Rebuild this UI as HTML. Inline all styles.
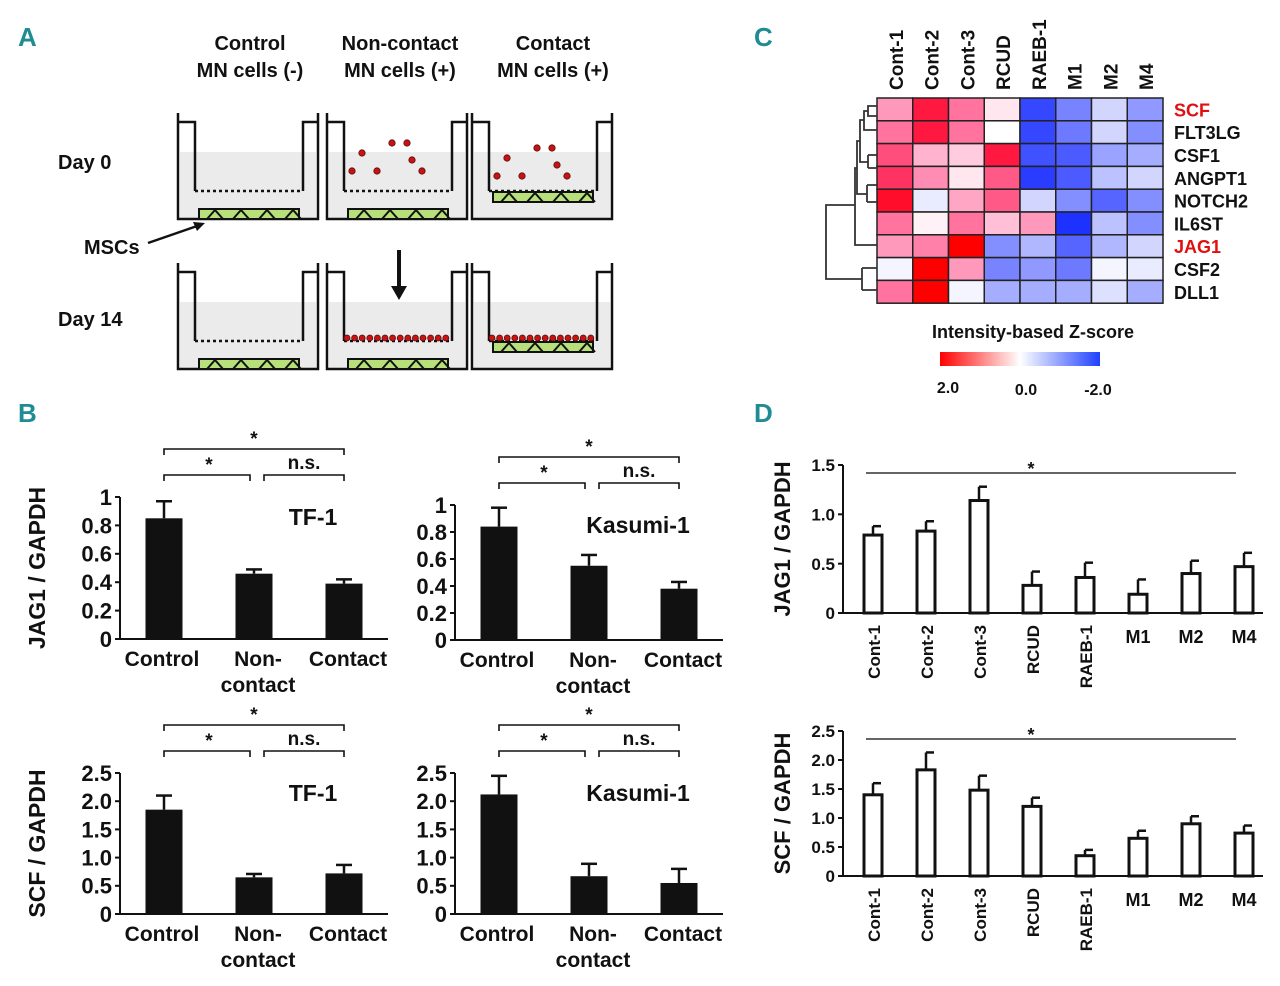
<!DOCTYPE html>
<html><head><meta charset="utf-8"><style>
body{margin:0;background:#fff}
svg{display:block;font-family:"Liberation Sans",Arial,sans-serif}
text{font-weight:bold;fill:#111}
</style></head><body>
<svg id="fig" width="1280" height="986" viewBox="0 0 1280 986" xmlns="http://www.w3.org/2000/svg">
<g style="font-size:26px">
<text x="18" y="46" style="fill:#1f8b93">A</text>
<text x="18" y="422" style="fill:#1f8b93">B</text>
<text x="754" y="46" style="fill:#1f8b93">C</text>
<text x="754" y="422" style="fill:#1f8b93">D</text>
</g>
<g style="font-size:20px" text-anchor="middle">
<text x="250" y="50">Control</text><text x="250" y="77">MN cells (-)</text>
<text x="400" y="50">Non-contact</text><text x="400" y="77">MN cells (+)</text>
<text x="553" y="50">Contact</text><text x="553" y="77">MN cells (+)</text>
</g>
<g style="font-size:20px">
<text x="58" y="169">Day  0</text><text x="58" y="326">Day  14</text><text x="84" y="254">MSCs</text>
</g>
<line x1="148" y1="243" x2="200" y2="225" stroke="#111" stroke-width="2.5"/>
<polygon points="205,223 193,222 197,231" fill="#111"/>
<line x1="399" y1="250" x2="399" y2="290" stroke="#111" stroke-width="4"/>
<polygon points="391,286 407,286 399,300" fill="#111"/>
<g id="wells"></g>
<g id="heat"></g>
<g id="charts"></g>
</svg>
<script>
// ===== Heatmap data =====
const heatCols=["Cont-1","Cont-2","Cont-3","RCUD","RAEB-1","M1","M2","M4"];
const heatRows=["SCF","FLT3LG","CSF1","ANGPT1","NOTCH2","IL6ST","JAG1","CSF2","DLL1"];
const zSCF=[0.8,1.8,1.1,0.2,-1.8,-1.2,-0.4,-1.0];
const zFLT3LG=[1.1,1.8,1.1,0,-1.8,-1.3,-0.4,-1.1];
const zCSF1=[1.4,0.6,0.4,1.8,-1.7,-1.6,-0.9,-0.8];
const zANGPT1=[1.6,0.9,0.2,1.3,-1.9,-1.6,-0.6,-0.4];
const zNOTCH2=[1.9,-0.2,0.7,1.3,-0.4,-1.1,-1.5,-1.1];
const zIL6ST=[1.1,0.1,1.1,0.5,0.8,-2.0,-0.6,-1.1];
const zJAG1=[0.8,1.0,2.0,-1.1,-0.7,-1.5,-0.7,-0.4];
const zCSF2=[-0.1,2.0,0.8,-1.2,-1.0,-1.3,-0.1,-0.2];
const zDLL1=[1.1,2.0,-0.1,-0.8,-0.8,-0.8,-0.3,-0.8];
const heatValues=[zSCF,zFLT3LG,zCSF1,zANGPT1,zNOTCH2,zIL6ST,zJAG1,zCSF2,zDLL1];
// ===== Panel B data =====
const bCats=["Control","Non-contact","Contact"];
const tfJag=[0.85,0.46,0.39], tfJagErr=[0.12,0.03,0.03];
const kaJag=[0.84,0.55,0.38], kaJagErr=[0.14,0.08,0.05];
const tfScf=[1.85,0.65,0.72], tfScfErr=[0.25,0.06,0.15];
const kaScf=[2.12,0.67,0.55], kaScfErr=[0.33,0.22,0.25];
const jagTicks=["0","0.2","0.4","0.6","0.8","1"];
const scfTicks=["0","0.5","1.0","1.5","2.0","2.5"];
// ===== Panel D data =====
const dCats=["Cont-1","Cont-2","Cont-3","RCUD","RAEB-1","M1","M2","M4"];
const dJag=[0.79,0.83,1.14,0.28,0.36,0.19,0.40,0.47];
const dJagErr=[0.09,0.10,0.14,0.14,0.15,0.15,0.13,0.14];
const dScf=[1.40,1.83,1.48,1.20,0.35,0.65,0.90,0.74];
const dScfErr=[0.20,0.30,0.25,0.15,0.10,0.13,0.13,0.13];
const dJagTicks=["0","0.5","1.0","1.5"];
const dScfTicks=["0","0.5","1.0","1.5","2.0","2.5"];

const NS="http://www.w3.org/2000/svg";
function el(tag,attrs,parent,txt){const e=document.createElementNS(NS,tag);for(const k in attrs)e.setAttribute(k,attrs[k]);if(txt!==undefined)e.textContent=txt;parent.appendChild(e);return e;}

// ===== Wells =====
const W=document.getElementById('wells');
function well(x,y,type,day){
  const g=el('g',{},W);
  
  
  el('rect',{x:x+2,y:y+39,width:136,height:66,fill:'#ebebeb'},g);
  el('path',{d:`M${x} ${y} V${y+106} H${x+140} V${y}`,fill:'none',stroke:'#111','stroke-width':2.5},g);
  const insB=y+78;
  el('path',{d:`M${x} ${y+9} H${x+17} V${y+78}`,fill:'none',stroke:'#111','stroke-width':2.5},g);
  el('path',{d:`M${x+140} ${y+9} H${x+125} V${y+78}`,fill:'none',stroke:'#111','stroke-width':2.5},g);
  el('line',{x1:x+17,y1:insB,x2:x+125,y2:insB,stroke:'#111','stroke-width':2.5,'stroke-dasharray':'3,3'},g);
  const cellY= type==='contact'? insB : y+95;
  const cx0= x+17, cw=108;
  el('rect',{x:cx0+4,y:cellY+1,width:cw-8,height:10,fill:'#b8e07a',stroke:'#111','stroke-width':2},g);
  for(let i=0;i<4;i++){el('path',{d:`M${cx0+12+i*26} ${cellY+11} L${cx0+20+i*26} ${cellY+2} L${cx0+28+i*26} ${cellY+11}`,fill:'none',stroke:'#111','stroke-width':2},g);}
  if(type!=='control'){
    if(day===0){
      const pts=[[30,40],[60,30],[80,47],[20,58],[90,58],[45,58],[75,30]];
      pts.forEach(p=>el('circle',{cx:x+p[0]+5,cy:y+p[1]+(type==='contact'?5:0),r:3.2,fill:'#cc1111',stroke:'#511',"stroke-width":0.8},g));
    } else {
      for(let i=0;i<14;i++)el('circle',{cx:x+20+i*7.6,cy:insB-3,r:3,fill:'#cc1111',stroke:'#511','stroke-width':0.8},g);
    }
  }
}
[[178,'control'],[327,'noncontact'],[472,'contact']].forEach(([x,t])=>{well(x,113,t,0);well(x,263,t,14);});

// ===== Heatmap =====
const H=document.getElementById('heat');
const hx0=877,hy0=98,cw=35.75,ch=22.8;
function zcol(z){const t=Math.min(1,Math.abs(z)/2);
 if(z>=0){return `rgb(255,${Math.round(255*(1-t))},${Math.round(255*Math.pow(1-t,0.6))})`;}
 return `rgb(${Math.round(255-225*t)},${Math.round(255-205*t)},255)`;}
heatValues.forEach((row,r)=>row.forEach((z,c)=>{
  const e=el('rect',{x:hx0+c*cw,y:hy0+r*ch,width:cw,height:ch,fill:zcol(z),stroke:'#222','stroke-width':1.5},H);
  
  
}));
heatCols.forEach((c,i)=>{const t=el('text',{x:0,y:0,transform:`translate(${hx0+i*cw+cw/2+8},${hy0-8}) rotate(-90)`,'font-size':19},H,c);
  });
heatRows.forEach((r,i)=>{const t=el('text',{x:1174,y:hy0+i*ch+ch/2+7,'font-size':18,style:(r==='SCF'||r==='JAG1')?'fill:#e01010':''},H,r);
  });
const dg=el('path',{d:'M877 106 H868 V116 H877 M868 111 H864 V130 H877 M864 120 H860 V162 H868 M868 155 H877 M868 168 H877 M868 155 V168 M860 141 H857 V194 H867 M867 185 H877 M867 202 H877 M867 185 V202 M857 168 H855 V245 H877 M855 205 H826 V279 H862 M862 268 H877 M862 290 H877 M862 268 V290',fill:'none',stroke:'#333','stroke-width':1.8},H);

const defs=el('defs',{},H);const lg=el('linearGradient',{id:'zg'},defs);
[['0','#ff0000'],['0.5','#ffffff'],['1','#2040ff']].forEach(s=>el('stop',{offset:s[0],'stop-color':s[1]},lg));
const gb=el('rect',{x:940,y:352,width:160,height:14,fill:'url(#zg)'},H);
el('text',{x:1033,y:338,'font-size':18,'text-anchor':'middle'},H,'Intensity-based Z-score');
el('text',{x:948,y:393,'font-size':16,'text-anchor':'middle'},H,'2.0');
el('text',{x:1026,y:395,'font-size':16,'text-anchor':'middle'},H,'0.0');
el('text',{x:1098,y:395,'font-size':16,'text-anchor':'middle'},H,'-2.0');

// ===== Bar charts =====
const C=document.getElementById('charts');
function bchart(o){
  const g=el('g',{},C);
  
  const y=v=>o.y0-(v/o.max)*(o.y0-o.ytop);
  el('line',{x1:o.ax,y1:o.ytop,x2:o.ax,y2:o.y0,stroke:'#111','stroke-width':2},g);
  el('line',{x1:o.ax,y1:o.y0,x2:o.xend,y2:o.y0,stroke:'#111','stroke-width':2},g);
  o.ticks.forEach((t,i)=>{const v=i*o.max/(o.ticks.length-1);
    el('line',{x1:o.ax-5,y1:y(v),x2:o.ax,y2:y(v),stroke:'#111','stroke-width':2},g);
    el('text',{x:o.ax-8,y:y(v)+o.tfs*0.36,'font-size':o.tfs,'text-anchor':'end'},g,t);});
  o.vals.forEach((v,i)=>{const cx=o.x0+i*o.step;
    const b=el('rect',{x:cx-o.bw/2,y:y(v),width:o.bw,height:o.y0-y(v),fill:o.open?'#fff':'#111',stroke:'#111','stroke-width':o.open?3:0},g);
    
    const ey=y(v+o.err[i]);
    el('line',{x1:cx,y1:y(v),x2:cx,y2:ey,stroke:'#111','stroke-width':2.5},g);
    el('line',{x1:cx,y1:ey,x2:cx+8,y2:ey,stroke:'#111','stroke-width':2.5},g);
    if(!o.open){el('line',{x1:cx-8,y1:ey,x2:cx,y2:ey,stroke:'#111','stroke-width':2.5},g);}
  });
  return {g,y};
}
function bPanel(name,ax,ytop,y0,vals,err,ticks,max,title,tx,ylab){
  const r=bchart({name,ax,ytop,y0,xend:ax+268,x0:ax+44,step:90,bw:37,vals,err,ticks,max,tfs:22,cats:bCats});
  const g=r.g;
  el('text',{x:ax+tx,y:ytop+28,'font-size':23,'text-anchor':'middle'},g,title);
  const lab=[['Control',ax+42,y0+27],['Non-',ax+138,y0+27],['contact',ax+138,y0+53],['Contact',ax+228,y0+27]];
  lab.forEach(l=>el('text',{x:l[1],y:l[2],'font-size':21,'text-anchor':'middle'},g,l[0]));
  const c0=ax+44,c1=ax+134,c2=ax+224,ba=ytop-22,bt=ytop-48;
  el('path',{d:`M${c0} ${ba+6} V${ba} H${c1-4} V${ba+6} M${c1+10} ${ba+6} V${ba} H${c2} V${ba+6} M${c0} ${bt+6} V${bt} H${c2} V${bt+6}`,fill:'none',stroke:'#111','stroke-width':1.6},g);
  el('text',{x:(c0+c1)/2,y:ba-4,'font-size':19,'text-anchor':'middle'},g,'*');
  el('text',{x:(c1+c2)/2+5,y:ba-6,'font-size':19,'text-anchor':'middle'},g,'n.s.');
  el('text',{x:(c0+c2)/2,y:bt-4,'font-size':19,'text-anchor':'middle'},g,'*');
  if(ylab) el('text',{x:0,y:0,transform:`translate(${ax-75},${(ytop+y0)/2}) rotate(-90)`,'font-size':23,'text-anchor':'middle'},g,ylab);
}
bPanel('tf1-jag1-chart',120,497,639,tfJag,tfJagErr,jagTicks,1,'TF-1',193,'JAG1 / GAPDH');
bPanel('kasumi-jag1-chart',455,505,640,kaJag,kaJagErr,jagTicks,1,'Kasumi-1',183,null);
bPanel('tf1-scf-chart',120,773,914,tfScf,tfScfErr,scfTicks,2.5,'TF-1',193,'SCF / GAPDH');
bPanel('kasumi-scf-chart',455,773,914,kaScf,kaScfErr,scfTicks,2.5,'Kasumi-1',183,null);

function dPanel(name,ytop,y0,vals,err,ticks,max,ylab){
  const r=bchart({name,ax:843,ytop,y0,xend:1263,x0:873,step:53,bw:18,vals,err,ticks,max,tfs:17,cats:dCats,open:true});
  const g=r.g;
  el('line',{x1:866,y1:ytop+8,x2:1236,y2:ytop+8,stroke:'#333','stroke-width':1.5},g);
  el('text',{x:1031,y:ytop+10,'font-size':18,'text-anchor':'middle'},g,'*');
  dCats.forEach((c,i)=>{const cx=873+i*53;
    if(c.startsWith('M')) el('text',{x:cx,y:y0+30,'font-size':18,'text-anchor':'middle'},g,c);
    else el('text',{x:0,y:0,transform:`translate(${cx+7},${y0+12}) rotate(-90)`,'font-size':17,'text-anchor':'end'},g,c);});
  el('text',{x:0,y:0,transform:`translate(${790},${(ytop+y0)/2}) rotate(-90)`,'font-size':22,'text-anchor':'middle'},g,ylab);
}
dPanel('d-jag1-chart',465,613,dJag,dJagErr,dJagTicks,1.5,'JAG1 / GAPDH');
dPanel('d-scf-chart',731,876,dScf,dScfErr,dScfTicks,2.5,'SCF / GAPDH');
</script>
</body></html>
